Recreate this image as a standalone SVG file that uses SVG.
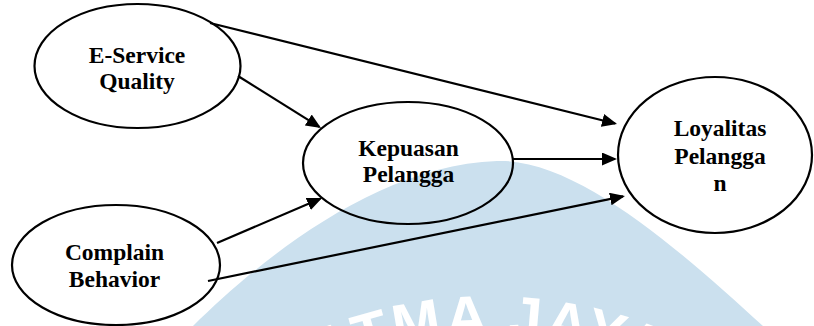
<svg xmlns="http://www.w3.org/2000/svg" width="814" height="326" viewBox="0 0 814 326">
  <style>
    .node { fill: none; stroke: #000; stroke-width: 2.2; }
    .label { font-family: "Liberation Serif", "Times New Roman", serif; font-weight: bold; font-size: 23.5px; fill: #000; text-anchor: middle; }
    .edge { fill: none; stroke: #000; stroke-width: 2.2; marker-end: url(#arrow); }
    .wm { fill: #cbe0ee; }
    .wm-text { font-family: "Liberation Sans", Arial, sans-serif; font-weight: bold; font-size: 58px; fill: #fff; letter-spacing: 3px; }
  </style>
  <defs>
    <marker id="arrow" markerUnits="userSpaceOnUse" markerWidth="16" markerHeight="14" refX="13" refY="6.5" orient="auto">
      <path d="M0,0 L15,6.5 L0,13 Z" fill="#000"/>
    </marker>
    <path id="wmArc" d="M70,756 A420 420 0 0 1 910,756"/>
  </defs>

  <rect width="814" height="326" fill="#fff"/>

  <!-- background seal -->
  <g id="watermark">
    <path class="wm" d="M193,326 C265,255 380,165 497,161 C580,158 690,260 763,326 L780,340 L180,340 Z"/>
    <text class="wm-text"><textPath href="#wmArc" startOffset="50%" text-anchor="middle">ATMA JAYA</textPath></text>
  </g>

  <!-- connectors -->
  <g id="connectors">
    <line class="edge" x1="210" y1="23" x2="615.1" y2="123.5"/>
    <line class="edge" x1="238" y1="76" x2="319.3" y2="126.9"/>
    <line class="edge" x1="513" y1="159" x2="615" y2="159"/>
    <line class="edge" x1="217" y1="243" x2="320.2" y2="198.8"/>
    <line class="edge" x1="208" y1="281" x2="623" y2="196.4"/>
  </g>

  <g id="e-service-quality">
    <ellipse class="node" cx="137.5" cy="66" rx="103" ry="62"/>
    <text class="label" x="137" y="63">E-Service</text>
    <text class="label" x="137" y="89">Quality</text>
  </g>

  <g id="kepuasan-pelanggan">
    <ellipse class="node" cx="408" cy="163" rx="105" ry="61"/>
    <text class="label" x="408.5" y="156">Kepuasan</text>
    <text class="label" x="408.5" y="182">Pelangga</text>
  </g>

  <g id="loyalitas-pelanggan">
    <ellipse class="node" cx="715" cy="155" rx="97" ry="78"/>
    <text class="label" x="720" y="136">Loyalitas</text>
    <text class="label" x="720" y="164">Pelangga</text>
    <text class="label" x="720" y="191">n</text>
  </g>

  <g id="complain-behavior">
    <ellipse class="node" cx="116" cy="265" rx="104" ry="60"/>
    <text class="label" x="114.5" y="260">Complain</text>
    <text class="label" x="114.5" y="287">Behavior</text>
  </g>
</svg>
